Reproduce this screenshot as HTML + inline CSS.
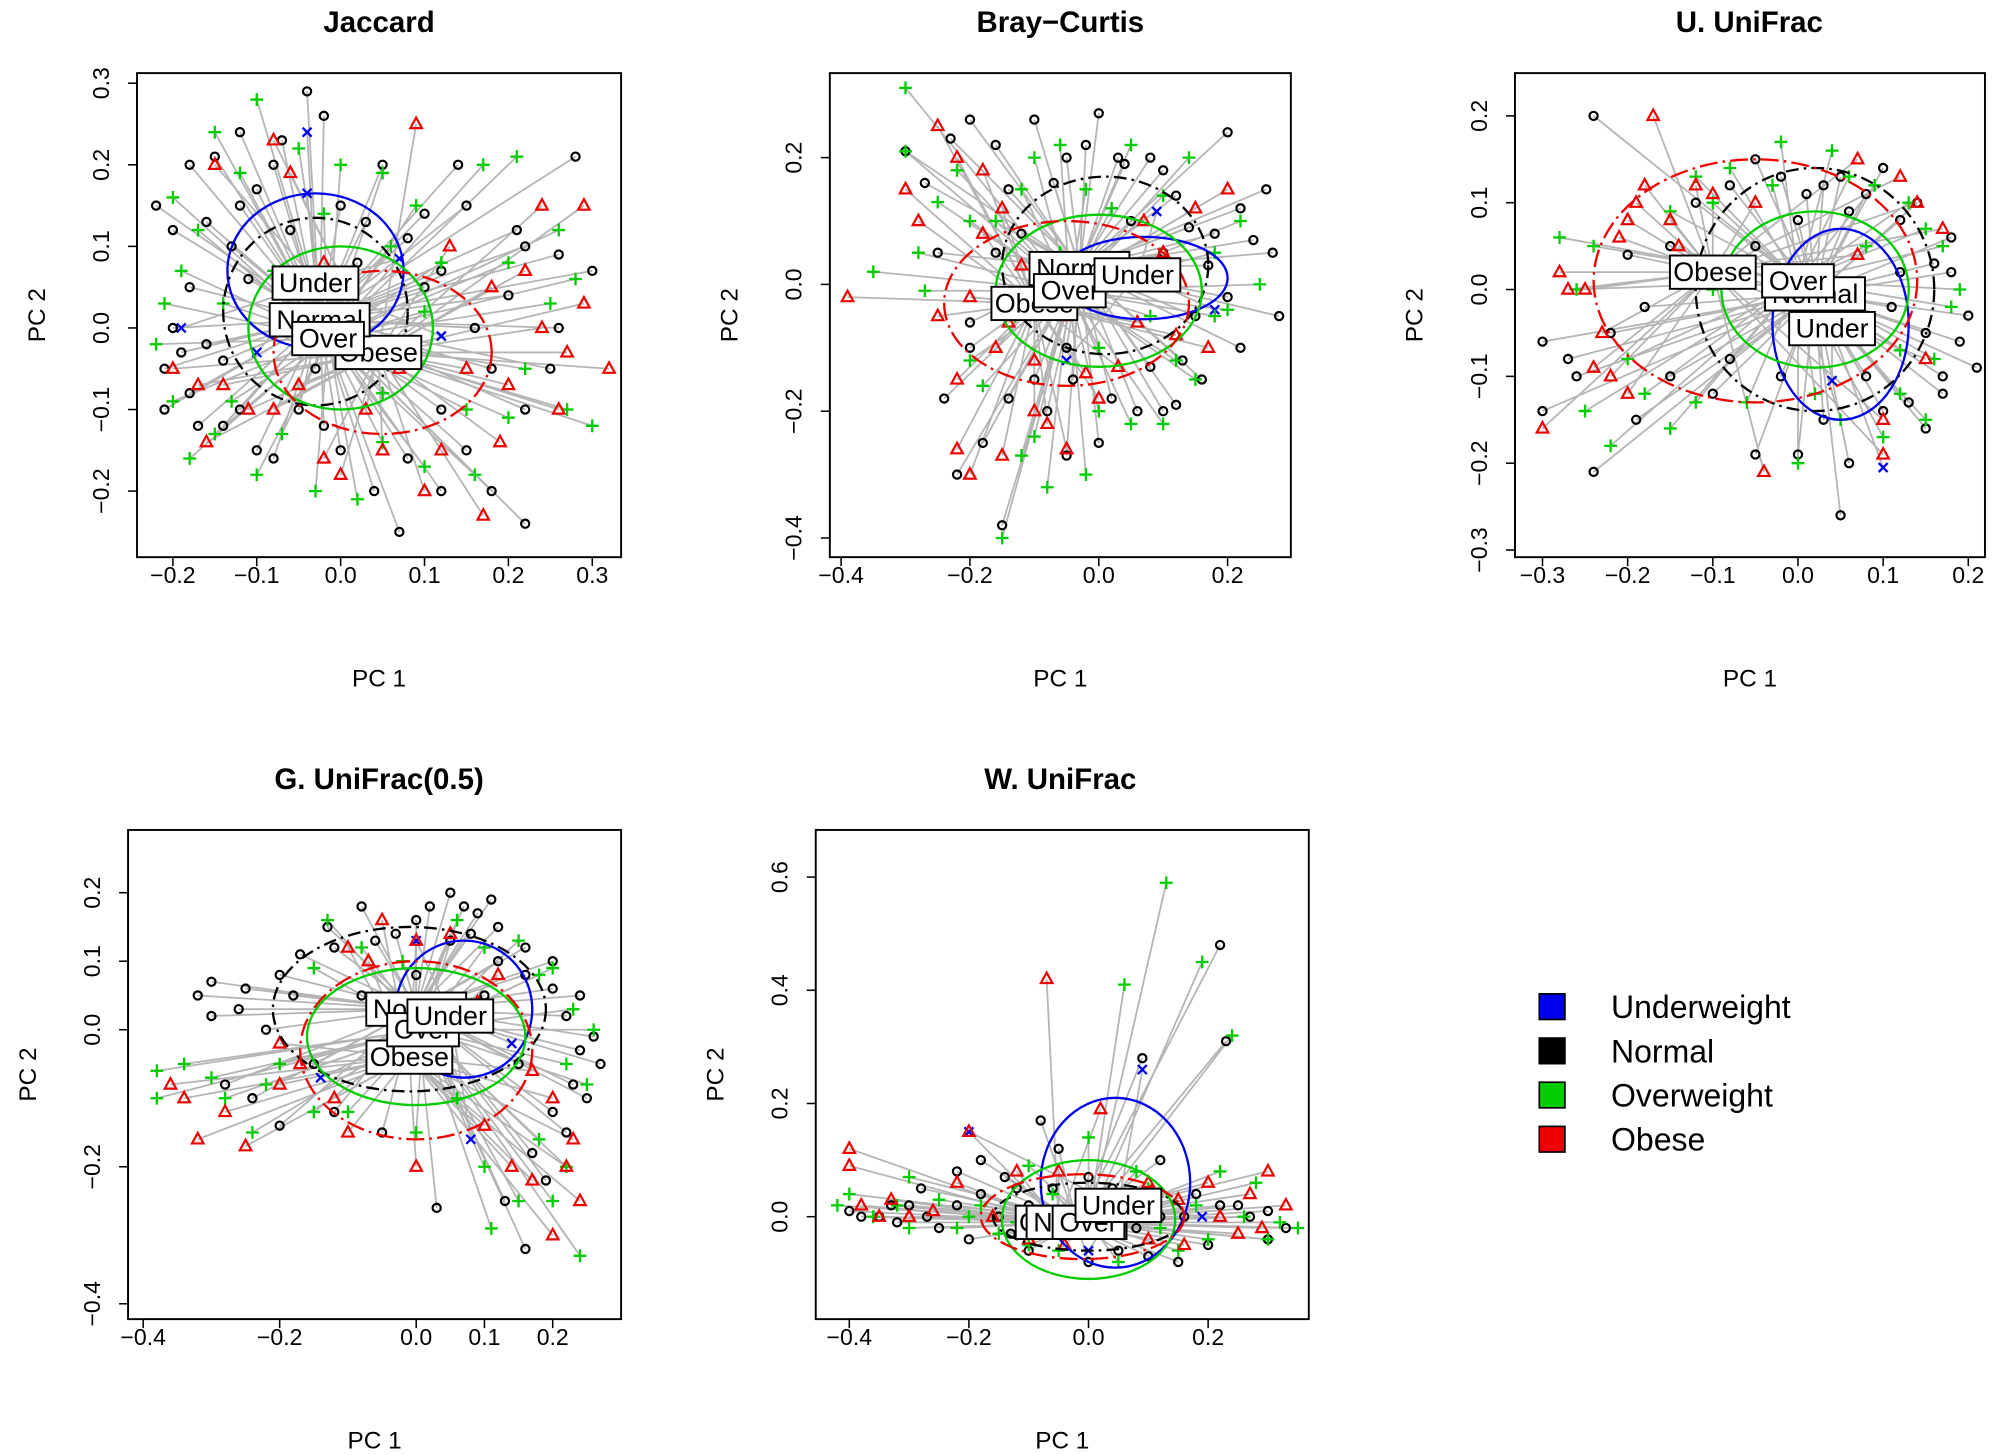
<!DOCTYPE html>
<html><head><meta charset="utf-8"><style>
html,body{margin:0;padding:0;background:#fff}
svg{display:block}
text{font-family:"Liberation Sans",Arial,sans-serif}
</style></head><body>
<svg id="chart" width="2008" height="1455" viewBox="0 0 1568 1136" xmlns="http://www.w3.org/2000/svg"></svg>
<script>
// ---- data (PC1, PC2 in data units) ----
const groups = ["Underweight","Normal","Overweight","Obese"];
const groupLabels = ["Under","Normal","Over","Obese"];
const groupColors = ["#0000ee","#000000","#00cc00","#ee0000"];

const jacNormal = "-0.22,0.15 -0.2,0.12 -0.15,0.21 -0.12,0.24 -0.08,0.2 -0.04,0.29 -0.02,0.26 0.05,0.2 0.1,0.14 0.15,0.15 0.22,0.1 0.26,0.09 0.3,0.07 0.28,0.21 0.2,0.04 0.25,-0.05 0.22,-0.1 0.18,-0.2 0.22,-0.24 0.15,-0.15 0.08,-0.16 0.07,-0.25 0.0,-0.15 -0.05,-0.1 -0.1,-0.15 -0.18,-0.08 -0.21,-0.05 -0.18,0.05 -0.2,0.0 -0.14,-0.12 -0.06,0.12 -0.12,0.15 0.02,0.08 -0.03,-0.05 0.12,-0.1 -0.16,-0.02 0.1,0.05 -0.18,0.2 -0.16,0.13 -0.13,0.1 -0.1,0.17 -0.07,0.23 0.0,0.15 0.03,0.13 0.08,0.11 0.12,0.07 0.16,0.0 0.18,-0.05 0.12,-0.2 0.04,-0.2 -0.02,-0.12 -0.08,-0.16 -0.12,-0.1 -0.17,-0.12 -0.21,-0.1 -0.19,-0.03 -0.14,-0.04 0.21,0.12 0.26,0.0 0.14,0.2 -0.11,0.06";
const jacOver = "-0.2,0.16 -0.15,0.24 -0.1,0.28 -0.05,0.22 0.0,0.2 0.05,0.19 0.09,0.15 0.17,0.2 0.21,0.21 0.26,0.12 0.28,0.06 0.3,-0.12 0.2,-0.11 0.15,-0.1 0.1,-0.17 0.02,-0.21 -0.03,-0.2 -0.1,-0.18 -0.15,-0.13 -0.2,-0.09 -0.22,-0.02 -0.19,0.07 -0.14,0.03 0.1,0.02 0.05,-0.08 -0.08,0.07 0.25,0.03 -0.17,0.12 -0.12,0.19 -0.02,0.14 0.06,0.1 0.12,0.08 0.2,0.08 0.22,-0.05 0.16,-0.18 0.05,-0.14 -0.07,-0.13 -0.13,-0.09 -0.18,-0.16 0.27,-0.1 -0.21,0.03";
const jacObese = "-0.2,-0.05 -0.16,-0.14 -0.08,-0.1 -0.02,-0.16 0.0,-0.18 0.05,-0.15 0.1,-0.2 0.12,-0.15 0.17,-0.23 0.2,-0.07 0.24,0.0 0.27,-0.03 0.32,-0.05 0.29,0.15 0.24,0.15 0.18,0.05 0.13,0.1 0.09,0.25 -0.08,0.23 -0.15,0.2 -0.14,-0.07 -0.05,-0.07 0.07,-0.05 -0.17,-0.07 -0.11,-0.1 0.03,-0.1 0.15,-0.05 0.22,0.07 0.29,0.03 0.26,-0.1 -0.06,0.19 0.19,-0.14 -0.02,0.08";
const jacUnder = "-0.04,0.24 -0.04,0.165 0.07,0.085 0.12,-0.01 -0.19,0.0 -0.1,-0.03";

const bcNormal = "-0.3,0.21 -0.2,0.26 -0.16,0.22 -0.1,0.26 -0.05,0.2 0.0,0.27 0.04,0.19 0.08,0.2 0.12,0.14 0.2,0.24 0.22,0.12 0.26,0.15 0.27,0.05 0.28,-0.05 0.22,-0.1 0.16,-0.15 0.12,-0.19 0.06,-0.2 0.0,-0.25 -0.05,-0.27 -0.1,-0.15 -0.18,-0.25 -0.22,-0.3 -0.24,-0.18 -0.2,-0.1 -0.25,0.05 -0.12,0.08 0.05,0.1 0.17,0.03 -0.1,-0.05 -0.15,-0.38 0.1,0.05 -0.05,-0.1 0.15,-0.05 -0.27,0.16 -0.23,0.23 -0.14,0.15 -0.07,0.16 -0.02,0.22 0.03,0.2 0.1,0.18 0.14,0.09 0.18,0.08 0.24,0.07 0.2,-0.02 0.13,-0.12 0.08,-0.13 0.02,-0.18 -0.08,-0.2 -0.14,-0.18 -0.2,-0.06 -0.16,0.05 0.06,0.0 -0.04,-0.15 0.1,-0.2";
const bcOver = "-0.3,0.31 -0.3,0.21 -0.28,0.05 -0.35,0.02 -0.27,-0.01 -0.2,-0.12 -0.15,-0.4 -0.12,-0.27 -0.08,-0.32 -0.02,-0.3 0.05,-0.22 0.1,-0.22 0.15,-0.15 0.18,-0.05 0.25,0.0 0.22,0.1 0.14,0.2 0.05,0.22 -0.02,0.15 -0.1,0.2 -0.16,0.1 -0.22,0.18 0.0,-0.1 0.08,-0.05 -0.06,0.05 -0.25,0.13 -0.2,0.1 -0.12,0.15 -0.06,0.22 0.02,0.12 0.1,0.14 0.18,0.05 0.2,-0.04 0.12,-0.12 0.0,-0.2 -0.1,-0.24 -0.18,-0.16 -0.13,-0.05";
const bcObese = "-0.39,-0.02 -0.3,0.15 -0.25,0.25 -0.22,0.2 -0.18,0.18 -0.2,-0.02 -0.16,-0.1 -0.22,-0.26 -0.2,-0.3 -0.15,-0.27 -0.1,-0.2 -0.05,-0.26 0.0,-0.18 0.03,-0.13 -0.05,-0.05 -0.12,0.03 0.1,0.05 0.15,0.12 0.2,0.15 0.17,-0.1 0.06,-0.06 -0.1,-0.12 -0.28,0.1 -0.25,-0.05 -0.18,0.08 -0.14,-0.06 -0.08,-0.22 -0.02,-0.14 0.07,0.1 0.12,-0.08 -0.22,-0.15 -0.15,0.12";
const bcUnder = "-0.08,0.02 0.09,0.115 0.18,-0.04 -0.05,-0.12";

const uuNormal = "-0.3,-0.14 -0.3,-0.06 -0.24,-0.21 -0.22,-0.05 -0.24,0.2 -0.2,0.04 -0.12,0.1 -0.05,0.15 0.01,0.11 0.03,0.12 0.06,0.09 0.1,0.14 0.14,0.1 0.18,0.06 0.2,-0.03 0.21,-0.09 0.17,-0.1 0.15,-0.16 0.1,-0.14 0.06,-0.2 0.05,-0.26 0.0,-0.19 -0.05,-0.19 -0.08,-0.08 -0.15,-0.1 0.12,0.02 0.08,-0.05 -0.05,0.05 0.15,-0.05 0.18,0.02 -0.26,-0.1 -0.18,-0.02 -0.15,0.05 -0.08,0.12 -0.02,0.13 0.05,0.13 0.08,0.11 0.12,0.08 0.16,0.03 0.19,-0.06 0.13,-0.13 0.08,-0.1 0.03,-0.15 -0.02,-0.1 -0.1,-0.12 -0.19,-0.15 -0.27,-0.08 0.11,-0.02 0.17,-0.12 0.0,0.08";
const uuOver = "-0.28,0.06 -0.25,-0.14 -0.22,-0.18 -0.15,0.09 -0.12,0.13 -0.08,0.14 -0.02,0.17 0.04,0.16 0.09,0.12 0.13,0.1 0.17,0.05 0.18,-0.02 0.15,-0.15 0.1,-0.17 0.05,-0.15 0.0,-0.2 -0.06,-0.13 -0.15,-0.16 -0.2,-0.08 0.08,0.05 0.12,-0.07 -0.1,0.0 -0.26,0.0 -0.18,-0.12 -0.1,0.1 -0.03,0.12 0.06,0.13 0.15,0.07 0.19,0.0 0.16,-0.08 0.12,-0.12 0.02,-0.12 -0.12,-0.13 -0.24,0.05";
const uuObese = "-0.3,-0.16 -0.28,0.02 -0.25,0.0 -0.23,-0.05 -0.2,0.08 -0.19,0.1 -0.17,0.2 -0.15,0.08 -0.12,0.12 -0.08,0.03 -0.04,-0.21 0.07,0.04 0.1,-0.15 0.1,-0.19 0.14,0.1 0.17,0.07 0.07,0.15 -0.05,0.1 -0.22,-0.1 -0.27,0.0 -0.24,-0.09 -0.21,0.06 -0.18,0.12 -0.14,0.05 -0.1,0.11 -0.2,-0.12 0.12,0.13 0.15,-0.08";
const uuUnder = "0.04,-0.105 0.1,-0.205";

const guNormal = "-0.32,0.05 -0.3,0.02 -0.25,0.06 -0.2,0.08 -0.17,0.11 -0.13,0.15 -0.08,0.18 -0.03,0.14 0.02,0.18 0.05,0.2 0.09,0.17 0.12,0.15 0.16,0.12 0.2,0.1 0.24,0.05 0.26,-0.01 0.27,-0.05 0.25,-0.1 0.22,-0.15 0.19,-0.22 0.16,-0.32 0.13,-0.25 0.03,-0.26 -0.05,-0.15 -0.12,-0.12 -0.2,-0.14 -0.28,-0.08 0.0,0.08 0.1,0.05 -0.08,0.05 0.15,-0.05 -0.3,0.07 -0.26,0.03 -0.22,0.0 -0.18,0.05 -0.12,0.12 -0.06,0.13 0.0,0.16 0.05,0.13 0.08,0.14 0.12,0.1 0.16,0.08 0.2,0.06 0.22,0.02 0.24,-0.03 0.23,-0.08 0.2,-0.12 0.17,-0.18 -0.15,-0.05 -0.24,-0.1 0.07,0.18 0.11,0.19";
const guOver = "-0.38,-0.06 -0.38,-0.1 -0.3,-0.07 -0.2,-0.05 -0.13,0.16 -0.02,0.1 0.06,0.16 0.15,0.13 0.2,0.09 0.26,0.0 0.25,-0.08 0.22,-0.2 0.2,-0.25 0.24,-0.33 0.1,-0.2 0.11,-0.29 0.0,-0.15 -0.1,-0.12 -0.24,-0.15 0.05,-0.02 -0.05,0.02 -0.34,-0.05 -0.28,-0.1 -0.22,-0.08 -0.15,0.09 -0.08,0.12 0.1,0.12 0.18,0.08 0.23,0.03 0.22,-0.05 0.18,-0.16 0.15,-0.25 0.06,-0.1 -0.15,-0.12";
const guObese = "-0.36,-0.08 -0.32,-0.16 -0.25,-0.17 -0.2,-0.02 -0.12,-0.1 -0.1,0.12 -0.05,0.16 0.05,0.14 0.09,0.04 0.2,-0.1 0.23,-0.16 0.2,-0.3 0.24,-0.25 0.17,-0.22 0.1,-0.14 0.0,-0.2 -0.2,-0.08 -0.34,-0.1 -0.28,-0.12 -0.17,-0.05 -0.07,0.1 0.0,0.13 0.12,0.08 0.17,-0.06 0.22,-0.2 0.14,-0.2 -0.1,-0.15";
const guUnder = "-0.14,-0.07 0.0,0.13 0.08,-0.16 0.14,-0.02";

const wuNormal = "-0.4,0.01 -0.35,0.0 -0.3,0.02 -0.28,0.05 -0.22,0.08 -0.18,0.1 -0.12,0.05 -0.08,0.17 -0.05,0.12 0.0,0.07 0.04,0.05 0.09,0.28 0.16,0.0 0.22,0.48 0.23,0.31 0.25,0.02 0.3,0.01 0.33,-0.02 0.2,-0.05 0.1,-0.07 0.0,-0.08 -0.1,-0.06 -0.2,-0.04 -0.25,-0.02 -0.15,0.0 0.1,0.03 0.05,-0.03 -0.05,-0.02 -0.38,0.0 -0.33,0.02 -0.27,0.0 -0.22,0.02 -0.18,0.04 -0.14,0.07 -0.1,0.02 -0.06,0.05 0.03,0.02 0.08,-0.02 0.12,0.0 0.18,0.04 0.22,0.02 0.27,0.0 0.3,-0.04 0.15,-0.08 0.05,-0.06 -0.13,-0.03 -0.32,-0.01 0.12,0.1 -0.02,0.0";
const wuOver = "-0.42,0.02 -0.4,0.04 -0.3,0.07 -0.25,0.03 -0.1,0.09 0.0,0.14 0.06,0.41 0.13,0.59 0.19,0.45 0.24,0.32 0.22,0.08 0.28,0.06 0.35,-0.02 0.3,-0.04 0.15,-0.06 0.05,-0.08 -0.05,-0.06 -0.15,-0.03 -0.3,-0.02 0.1,0.05 -0.2,0.0 -0.36,0.0 -0.32,0.02 -0.22,-0.02 -0.18,0.02 -0.12,-0.01 -0.06,0.04 0.02,0.02 0.12,-0.02 0.18,0.02 0.26,0.0 0.32,-0.01 0.2,-0.04 -0.1,-0.05 0.08,0.08";
const wuObese = "-0.4,0.12 -0.4,0.09 -0.35,0.0 -0.22,0.06 -0.2,0.15 -0.07,0.42 0.02,0.19 0.1,0.06 0.2,0.06 0.27,0.04 0.3,0.08 0.33,0.02 0.25,-0.03 0.1,-0.04 -0.1,-0.04 -0.3,0.0 -0.05,0.08 -0.38,0.02 -0.33,0.03 -0.26,0.01 -0.16,0.0 -0.12,0.08 0.05,0.02 0.15,0.03 0.22,0.0 0.29,-0.02 0.16,-0.05 -0.04,-0.05";
const wuUnder = "-0.2,0.15 0.09,0.26 0.19,0.0 0.0,-0.06";

// centroids (label positions) per group: Under, Normal, Over, Obese
const jacCent = [[-0.03,0.055],[-0.025,0.01],[-0.015,-0.013],[0.045,-0.03]];
const bcCent = [[0.06,0.015],[-0.03,0.025],[-0.045,-0.01],[-0.1,-0.03]];
const uuCent = [[0.04,-0.045],[0.02,-0.005],[0.0,0.01],[-0.1,0.02]];
const guCent = [[0.05,0.02],[0.0,0.03],[0.01,0.0],[-0.01,-0.04]];
const wuCent = [[0.05,0.02],[-0.02,-0.01],[0.0,-0.01],[-0.05,-0.01]];
// ellipses [cx, cy, rx, ry] per group
const jacEll = [[-0.03,0.07,0.105,0.095],[-0.03,0.02,0.11,0.115],[0.0,0.0,0.11,0.1],[0.05,-0.03,0.13,0.1]];
const bcEll = [[0.07,0.01,0.13,0.065],[0.01,0.03,0.16,0.14],[0.0,-0.01,0.16,0.12],[-0.05,-0.03,0.19,0.13]];
const uuEll = [[0.05,-0.04,0.08,0.11],[0.02,0.0,0.14,0.14],[0.02,0.0,0.11,0.09],[-0.05,0.01,0.19,0.14]];
const guEll = [[0.07,0.03,0.1,0.1],[-0.01,0.03,0.2,0.12],[0.0,-0.01,0.16,0.1],[0.0,-0.03,0.17,0.13]];
const wuEll = [[0.045,0.06,0.125,0.15],[0.0,0.0,0.16,0.06],[0.0,-0.005,0.145,0.105],[-0.01,0.0,0.17,0.075]];

const xTicksJac=[-0.2,-0.1,0.0,0.1,0.2,0.3], yTicksJac=[-0.2,-0.1,0.0,0.1,0.2,0.3];
const xTicksBC=[-0.4,-0.2,0.0,0.2], yTicksBC=[-0.4,-0.2,0.0,0.2];
const xTicksUU=[-0.3,-0.2,-0.1,0.0,0.1,0.2], yTicksUU=[-0.3,-0.2,-0.1,0.0,0.1,0.2];
const xTicksGU=[-0.4,-0.2,0.0,0.1,0.2], yTicksGU=[-0.4,-0.2,0.0,0.1,0.2];
const xTicksWU=[-0.4,-0.2,0.0,0.2], yTicksWU=[0.0,0.2,0.4,0.6];

const panels = [
 {name:"jaccard",title:"Jaccard",box:[107,57,485,435],x0:266,xs:655,y0:256,ys:637,xt:xTicksJac,yt:yTicksJac,pts:[jacUnder,jacNormal,jacOver,jacObese],cent:jacCent,ell:jacEll,tx:296,ty:17},
 {name:"bray-curtis",title:"Bray\u2212Curtis",box:[648,57,1008,435],x0:858,xs:503,y0:222,ys:495,xt:xTicksBC,yt:yTicksBC,pts:[bcUnder,bcNormal,bcOver,bcObese],cent:bcCent,ell:bcEll,tx:828,ty:17},
 {name:"u-unifrac",title:"U. UniFrac",box:[1183,57,1550,435],x0:1404,xs:665,y0:226,ys:678,xt:xTicksUU,yt:yTicksUU,pts:[uuUnder,uuNormal,uuOver,uuObese],cent:uuCent,ell:uuEll,tx:1366,ty:17},
 {name:"g-unifrac",title:"G. UniFrac(0.5)",box:[100,648,485,1030],x0:325,xs:533,y0:804,ys:535,xt:xTicksGU,yt:yTicksGU,pts:[guUnder,guNormal,guOver,guObese],cent:guCent,ell:guEll,tx:296,ty:608},
 {name:"w-unifrac",title:"W. UniFrac",box:[637,648,1022,1030],x0:850,xs:467,y0:950,ys:442,xt:xTicksWU,yt:yTicksWU,pts:[wuUnder,wuNormal,wuOver,wuObese],cent:wuCent,ell:wuEll,tx:828,ty:608}
];

const NS="http://www.w3.org/2000/svg";
const svg=document.getElementById('chart');
function mk(tag,attrs,parent){const e=document.createElementNS(NS,tag);for(const k in attrs)e.setAttribute(k,attrs[k]);(parent||svg).appendChild(e);return e;}
function parse(s){return s.trim().split(/\s+/).map(p=>p.split(',').map(Number));}
function fmt(v){return (v<0?"\u2212":"")+Math.abs(v).toFixed(1);}

panels.forEach(p=>{
  const X=v=>p.x0+v*p.xs, Y=v=>p.y0-v*p.ys;
  const g=mk('g',{});
  
  
  const [bx0,by0,bx1,by1]=p.box;
  const t=mk('text',{x:p.tx,y:p.ty+8,'text-anchor':'middle','font-size':23,'font-weight':'bold'},g);t.textContent=p.title;
  
  
  const clip=mk('g',{},g);
  p.pts.forEach((s,gi)=>{const c=p.cent[gi];parse(s).forEach(pt=>{
    const l=mk('line',{x1:X(pt[0]),y1:Y(pt[1]),x2:X(c[0]),y2:Y(c[1]),stroke:'#b5b5b5','stroke-width':1.4},clip);
    
    
  });});
  p.pts.forEach((s,gi)=>{const col=groupColors[gi];parse(s).forEach(pt=>{
    const x=X(pt[0]),y=Y(pt[1]);let e;
    if(gi===1)e=mk('circle',{cx:x,cy:y,r:3.2,fill:'none',stroke:col,'stroke-width':1.7},clip);
    else if(gi===2)e=mk('path',{d:`M${x-5},${y}H${x+5}M${x},${y-5}V${y+5}`,stroke:col,'stroke-width':1.8},clip);
    else if(gi===3)e=mk('path',{d:`M${x},${y-5}L${x+4.5},${y+3.2}L${x-4.5},${y+3.2}Z`,fill:'none',stroke:col,'stroke-width':1.7},clip);
    else e=mk('path',{d:`M${x-3.5},${y-3.5}L${x+3.5},${y+3.5}M${x-3.5},${y+3.5}L${x+3.5},${y-3.5}`,stroke:col,'stroke-width':1.8},clip);
    
    
  });});
  p.ell.forEach((el,gi)=>{
    const dash=gi===1?'10,4,2,4':(gi===3?'14,4,2,4':'none');
    const e=mk('ellipse',{cx:X(el[0]),cy:Y(el[1]),rx:el[2]*p.xs,ry:el[3]*p.ys,fill:'none',stroke:groupColors[gi],'stroke-width':1.8,'stroke-dasharray':dash},clip);
    
    
  });
  [3,1,2,0].forEach(gi=>{
    const c=p.cent[gi];const lbl=groupLabels[gi];const w=lbl.length*11+12;
    const lg=mk('g',{},clip);
    
    
    mk('rect',{x:X(c[0])-w/2,y:Y(c[1])-13,width:w,height:26,fill:'#fff',stroke:'#000','stroke-width':1.5},lg);
    const tt=mk('text',{x:X(c[0]),y:Y(c[1])+7,'text-anchor':'middle','font-size':21},lg);tt.textContent=lbl;
  });
  const b=mk('rect',{x:bx0,y:by0,width:bx1-bx0,height:by1-by0,fill:'none',stroke:'#000','stroke-width':1.5},g);
  
  
  const xa=mk('g',{},g);
  
  
  const xs=p.xt.map(X);
  mk('line',{x1:xs[0],y1:by1,x2:xs[xs.length-1],y2:by1,stroke:'#000','stroke-width':1.2},xa);
  p.xt.forEach(v=>{const x=X(v);mk('line',{x1:x,y1:by1,x2:x,y2:by1+7,stroke:'#000','stroke-width':1.2},xa);
    const tt=mk('text',{x:x,y:by1+20,'text-anchor':'middle','font-size':18},xa);tt.textContent=fmt(v);});
  const xl=mk('text',{x:(bx0+bx1)/2,y:by1+101,'text-anchor':'middle','font-size':19},g);xl.textContent='PC 1';
  
  
  const ya=mk('g',{},g);
  
  
  const ys=p.yt.map(Y);
  mk('line',{x1:bx0,y1:ys[0],x2:bx0,y2:ys[ys.length-1],stroke:'#000','stroke-width':1.2},ya);
  p.yt.forEach(v=>{const y=Y(v);mk('line',{x1:bx0,y1:y,x2:bx0-7,y2:y,stroke:'#000','stroke-width':1.2},ya);
    const tt=mk('text',{x:bx0-22,y:y,'text-anchor':'middle','font-size':18,transform:`rotate(-90 ${bx0-22} ${y})`},ya);tt.textContent=fmt(v);});
  const yl=mk('text',{x:bx0-72,y:(by0+by1)/2,'text-anchor':'middle','font-size':19,transform:`rotate(-90 ${bx0-72} ${(by0+by1)/2})`},g);yl.textContent='PC 2';
  
  
});

const leg=mk('g',{});


groups.forEach((gname,i)=>{
  const y=786+i*34.5;
  const e=mk('g',{},leg);
  
  
  mk('rect',{x:1202,y:y-10,width:20,height:20,fill:groupColors[i],stroke:'#000','stroke-width':1.3},e);
  const t=mk('text',{x:1258,y:y+9,'font-size':25},e);t.textContent=gname;
});
</script>
</body></html>
